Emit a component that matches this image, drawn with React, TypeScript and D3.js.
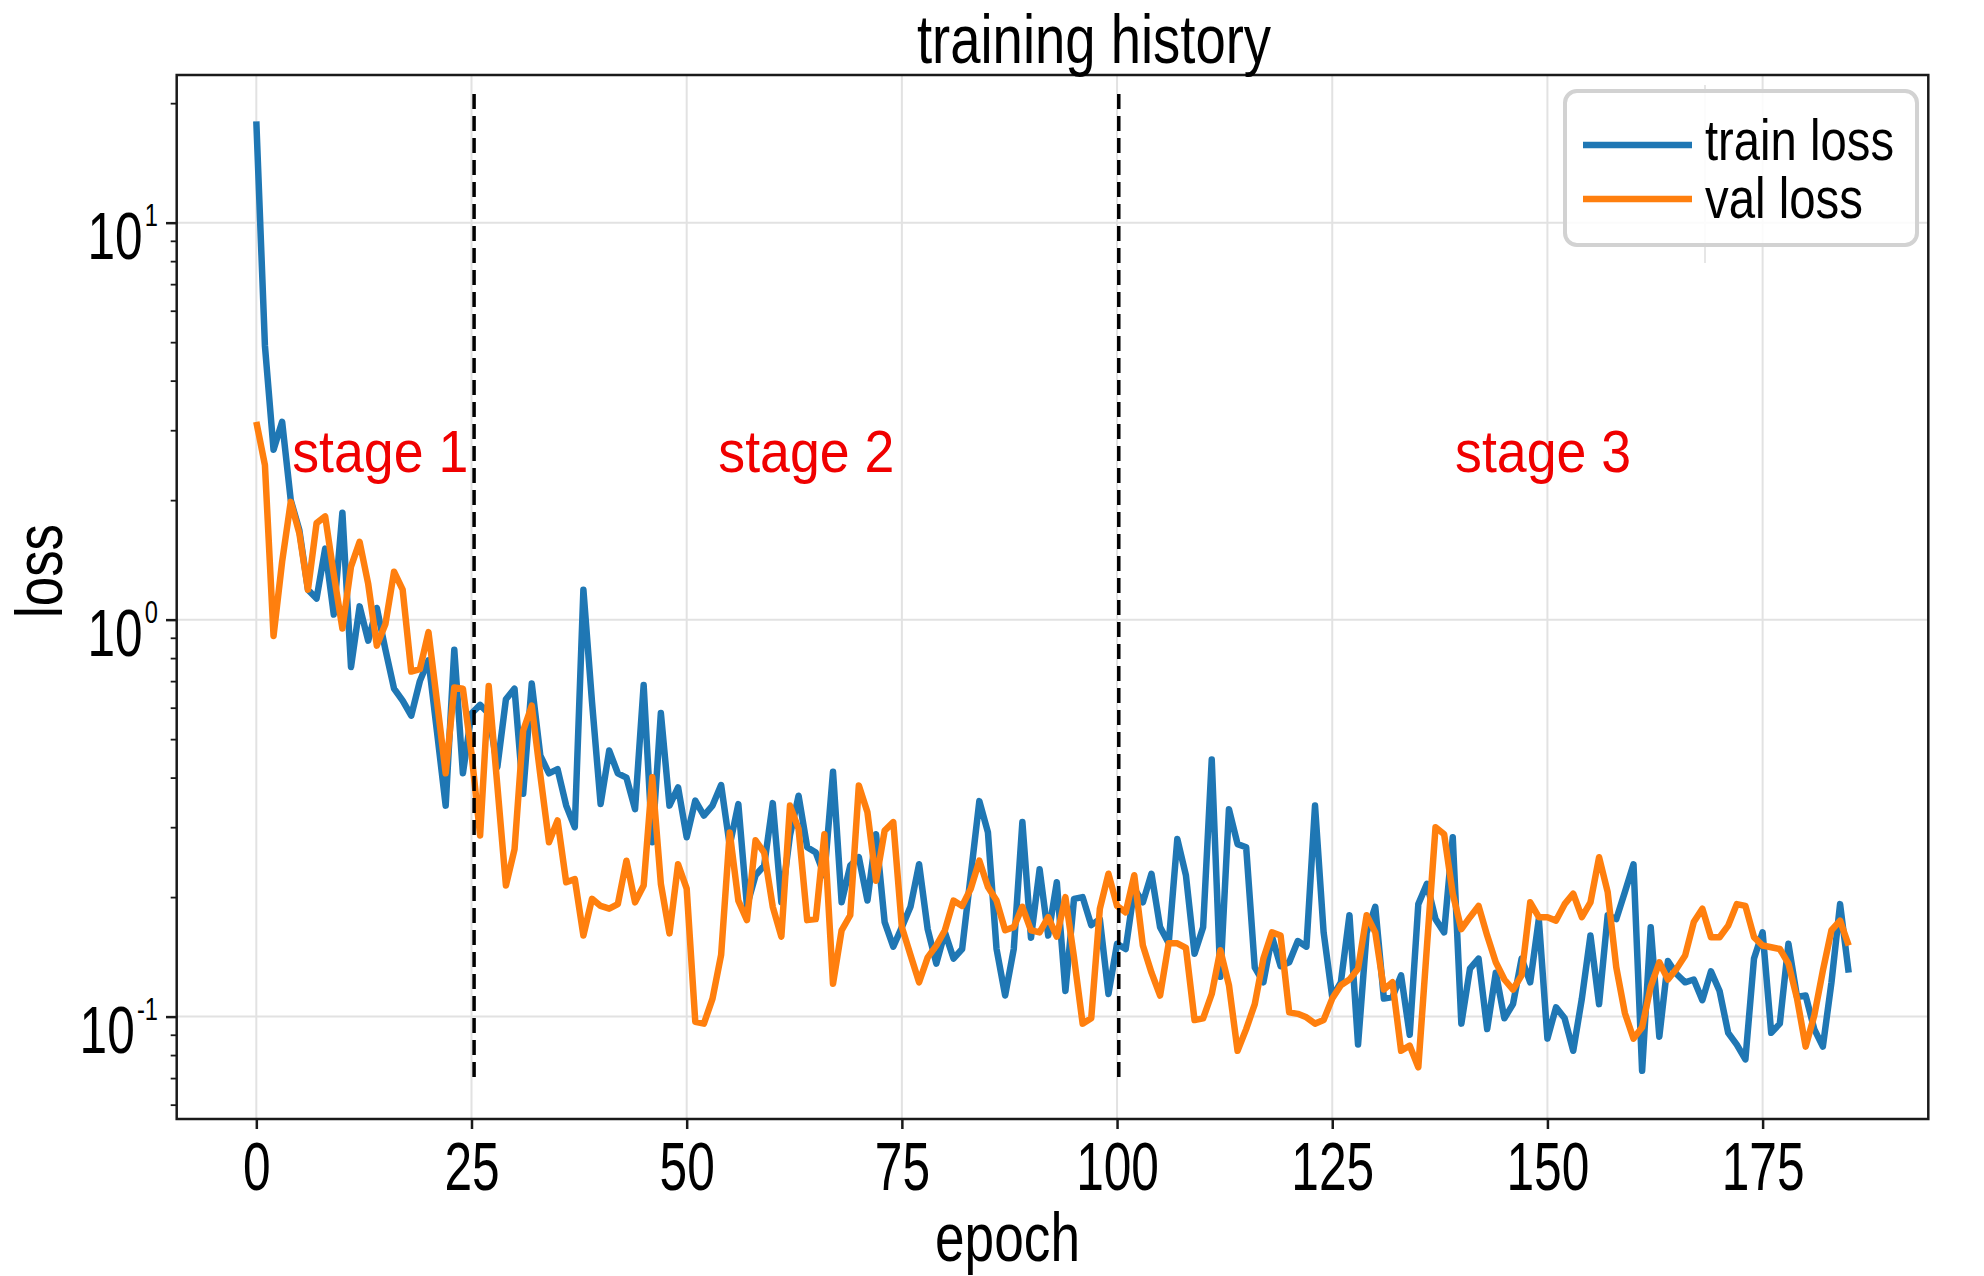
import { useEffect, useRef } from 'react';
import * as d3 from 'd3';

// loss per epoch (0..185)
const trainLoss = [
  18.0, 4.9, 2.68, 3.15, 2.0, 1.68, 1.19, 1.13, 1.51, 1.03,
  1.86, 0.76, 1.08, 0.885, 1.07, 0.84, 0.67, 0.625, 0.573, 0.7,
  0.79, 0.52, 0.34, 0.84, 0.41, 0.58, 0.61, 0.58, 0.425, 0.63,
  0.67, 0.364, 0.69, 0.454, 0.41, 0.42, 0.34, 0.3, 1.19, 0.62,
  0.343, 0.468, 0.41, 0.4, 0.333, 0.684, 0.275, 0.582, 0.34, 0.378,
  0.283, 0.35, 0.321, 0.34, 0.383, 0.27, 0.343, 0.19, 0.227, 0.24,
  0.345, 0.194, 0.286, 0.36, 0.267, 0.259, 0.227, 0.414, 0.194, 0.24,
  0.252, 0.196, 0.288, 0.173, 0.15, 0.168, 0.189, 0.242, 0.166, 0.136,
  0.163, 0.14, 0.148, 0.227, 0.349, 0.291, 0.148, 0.113, 0.148, 0.309,
  0.158, 0.235, 0.16, 0.218, 0.116, 0.198, 0.2, 0.17, 0.176, 0.114,
  0.1525, 0.148, 0.21, 0.194, 0.229, 0.168, 0.153, 0.28, 0.227, 0.144,
  0.168, 0.444, 0.126, 0.333, 0.272, 0.267, 0.133, 0.122, 0.159, 0.134,
  0.137, 0.155, 0.15, 0.34, 0.163, 0.112, 0.122, 0.18, 0.085, 0.163,
  0.189, 0.111, 0.112, 0.127, 0.09, 0.192, 0.216, 0.176, 0.163, 0.283,
  0.096, 0.132, 0.14, 0.093, 0.129, 0.099, 0.1075, 0.14, 0.122, 0.176,
  0.088, 0.1055, 0.099, 0.082, 0.111, 0.16, 0.1075, 0.18, 0.176, 0.206,
  0.242, 0.073, 0.168, 0.089, 0.138, 0.128, 0.122, 0.124, 0.11, 0.13,
  0.116, 0.091, 0.085, 0.078, 0.14, 0.163, 0.091, 0.096, 0.1525, 0.112,
  0.113, 0.093, 0.084, 0.122, 0.192, 0.129,
];

const valLoss = [
  3.15, 2.45, 0.91, 1.4, 1.98, 1.65, 1.19, 1.75, 1.82, 1.3,
  0.95, 1.36, 1.57, 1.23, 0.86, 0.975, 1.32, 1.19, 0.74, 0.75,
  0.93, 0.62, 0.41, 0.675, 0.67, 0.46, 0.286, 0.68, 0.382, 0.214,
  0.264, 0.525, 0.607, 0.405, 0.275, 0.312, 0.218, 0.222, 0.16, 0.198,
  0.19, 0.187, 0.192, 0.247, 0.194, 0.214, 0.401, 0.216, 0.162, 0.242,
  0.21, 0.097, 0.096, 0.111, 0.143, 0.291, 0.196, 0.175, 0.278, 0.259,
  0.189, 0.159, 0.34, 0.297, 0.175, 0.176, 0.288, 0.121, 0.165, 0.18,
  0.382, 0.327, 0.22, 0.294, 0.309, 0.168, 0.143, 0.122, 0.141, 0.151,
  0.165, 0.196, 0.19, 0.21, 0.247, 0.212, 0.196, 0.165, 0.168, 0.189,
  0.165, 0.163, 0.178, 0.159, 0.2, 0.141, 0.096, 0.099, 0.187, 0.229,
  0.19, 0.183, 0.227, 0.151, 0.129, 0.113, 0.153, 0.153, 0.149, 0.098,
  0.099, 0.114, 0.147, 0.12, 0.082, 0.093, 0.1075, 0.14, 0.163, 0.16,
  0.1025, 0.1016, 0.0996, 0.096, 0.098, 0.111, 0.12, 0.124, 0.132, 0.18,
  0.163, 0.117, 0.122, 0.082, 0.0845, 0.0745, 0.15, 0.3, 0.288, 0.204,
  0.166, 0.178, 0.19, 0.16, 0.137, 0.124, 0.117, 0.127, 0.194, 0.178,
  0.178, 0.1745, 0.192, 0.204, 0.178, 0.194, 0.252, 0.206, 0.133, 0.102,
  0.088, 0.094, 0.119, 0.137, 0.124, 0.132, 0.1425, 0.173, 0.187, 0.1585,
  0.1585, 0.1695, 0.192, 0.19, 0.1585, 0.151, 0.1495, 0.148, 0.136, 0.111,
  0.084, 0.1006, 0.1305, 0.165, 0.1745, 0.151,
];

const xTicks = [0, 25, 50, 75, 100, 125, 150, 175];
const yMajorTicks = [0.1, 1, 10];
const yTickExponents = ['-1', '0', '1'];
const stageLabels = ['stage 1', 'stage 2', 'stage 3'];
const stageCenters = [14.4, 63.9, 149.5];
const stageLabelLoss = 2.36;
const stageBoundaries = [25.3, 100.2];
const boundarySpan = [0.068, 21.1];
const seriesNames = ['train loss', 'val loss'];
const seriesColors = ['#1f77b4', '#ff7f0e'];

const W = 1984;
const H = 1276;
const FONT = '"Liberation Sans", Arial, Helvetica, sans-serif';

export default function App() {
  const svgRef = useRef<SVGSVGElement>(null);

  useEffect(() => {
    if (!svgRef.current) return;
    const svg = d3.select(svgRef.current);
    svg.selectAll('*').remove();

    const plot = { left: 176.7, right: 1928.3, top: 75, bottom: 1119 };
    const x = d3.scaleLinear().domain([-9.25, 194.25]).range([plot.left, plot.right]);
    const y = d3.scaleLog().domain([0.05521, 23.55]).range([plot.bottom, plot.top]);

    svg.append('rect').attr('width', W).attr('height', H).attr('fill', '#fff');

    // grid
    const grid = svg.append('g').attr('stroke', '#e2e2e2').attr('stroke-width', 2);
    grid
      .selectAll('.gx')
      .data(xTicks)
      .join('line')
      .attr('x1', (d) => x(d))
      .attr('x2', (d) => x(d))
      .attr('y1', plot.top)
      .attr('y2', plot.bottom);
    grid
      .selectAll('.gy')
      .data(yMajorTicks)
      .join('line')
      .attr('x1', plot.left)
      .attr('x2', plot.right)
      .attr('y1', (d) => y(d))
      .attr('y2', (d) => y(d));

    // faint leftover line under the legend, as in the source image
    svg
      .append('line')
      .attr('x1', 1705)
      .attr('x2', 1705)
      .attr('y1', 85)
      .attr('y2', 263)
      .attr('stroke', '#e6e6e6')
      .attr('stroke-width', 2);

    // series
    const line = d3
      .line<number>()
      .x((_, i) => x(i))
      .y((d) => y(d));
    [trainLoss, valLoss].forEach((series, i) => {
      svg
        .append('path')
        .datum(series)
        .attr('d', line)
        .attr('fill', 'none')
        .attr('stroke', seriesColors[i])
        .attr('stroke-width', 6.5)
        .attr('stroke-linejoin', 'round');
    });

    // stage boundaries
    svg
      .selectAll('.stage-line')
      .data(stageBoundaries)
      .join('line')
      .attr('x1', (d) => x(d))
      .attr('x2', (d) => x(d))
      .attr('y1', y(boundarySpan[1]))
      .attr('y2', y(boundarySpan[0]))
      .attr('stroke', '#000')
      .attr('stroke-width', 3.5)
      .attr('stroke-dasharray', '15 7');

    // stage labels
    svg
      .selectAll('.stage-label')
      .data(stageLabels)
      .join('text')
      .attr('x', (_, i) => x(stageCenters[i]))
      .attr('y', y(stageLabelLoss))
      .attr('text-anchor', 'middle')
      .attr('textLength', 176)
      .attr('lengthAdjust', 'spacingAndGlyphs')
      .style('font-family', FONT)
      .style('font-size', '59px')
      .style('fill', '#f00000')
      .text((d) => d);

    // spines
    svg
      .append('rect')
      .attr('x', plot.left)
      .attr('y', plot.top)
      .attr('width', plot.right - plot.left)
      .attr('height', plot.bottom - plot.top)
      .attr('fill', 'none')
      .attr('stroke', '#1a1a1a')
      .attr('stroke-width', 2.5);

    // x axis
    const xAxis = svg
      .append('g')
      .attr('transform', `translate(0, ${plot.bottom})`)
      .call(d3.axisBottom(x).tickValues(xTicks).tickSize(10).tickFormat((d) => String(d)));
    xAxis.select('.domain').remove();
    xAxis.selectAll('.tick line').attr('stroke', '#1a1a1a').attr('stroke-width', 2.5);
    xAxis
      .selectAll('.tick text')
      .attr('y', 71)
      .attr('dy', null)
      .attr('transform', 'scale(0.73, 1)')
      .style('font-family', FONT)
      .style('font-size', '68px')
      .style('fill', '#000');

    // y axis: minor ticks
    const minorTicks = y.ticks().filter((t) => !yMajorTicks.some((m) => Math.abs(m - t) < 1e-9));
    const yMinor = svg
      .append('g')
      .attr('transform', `translate(${plot.left}, 0)`)
      .call(d3.axisLeft(y).tickValues(minorTicks).tickSize(6).tickFormat(() => ''));
    yMinor.select('.domain').remove();
    yMinor.selectAll('.tick line').attr('stroke', '#1a1a1a').attr('stroke-width', 1.8);

    // y axis: majors with 10^n labels
    const yAxis = svg
      .append('g')
      .attr('transform', `translate(${plot.left}, 0)`)
      .call(d3.axisLeft(y).tickValues(yMajorTicks).tickSize(10.7).tickFormat(() => ''));
    yAxis.select('.domain').remove();
    yAxis.selectAll('.tick line').attr('stroke', '#1a1a1a').attr('stroke-width', 2.5);
    yAxis.selectAll('.tick text').remove();
    yAxis.selectAll<SVGGElement, number>('.tick').each(function (_, i) {
      const label = d3
        .select(this)
        .append('text')
        .attr('transform', `translate(${158 - plot.left}, 36) scale(0.74, 1)`)
        .attr('text-anchor', 'end')
        .style('font-family', FONT)
        .style('fill', '#000');
      label.append('tspan').style('font-size', '67px').text('10');
      label
        .append('tspan')
        .attr('dx', 3)
        .attr('dy', -33)
        .style('font-size', '32px')
        .text(yTickExponents[i]);
    });

    // title and axis labels
    svg
      .append('text')
      .attr('x', 1094)
      .attr('y', 63)
      .attr('text-anchor', 'middle')
      .attr('textLength', 354)
      .attr('lengthAdjust', 'spacingAndGlyphs')
      .style('font-family', FONT)
      .style('font-size', '68px')
      .text('training history');

    svg
      .append('text')
      .attr('x', 1007.5)
      .attr('y', 1261)
      .attr('text-anchor', 'middle')
      .attr('textLength', 145)
      .attr('lengthAdjust', 'spacingAndGlyphs')
      .style('font-family', FONT)
      .style('font-size', '68px')
      .text('epoch');

    svg
      .append('text')
      .attr('transform', 'translate(62, 571) rotate(-90)')
      .attr('text-anchor', 'middle')
      .attr('textLength', 94)
      .attr('lengthAdjust', 'spacingAndGlyphs')
      .style('font-family', FONT)
      .style('font-size', '67px')
      .text('loss');

    // legend
    const legend = svg.append('g');
    legend
      .append('rect')
      .attr('x', 1565)
      .attr('y', 91)
      .attr('width', 352)
      .attr('height', 154)
      .attr('rx', 12)
      .attr('fill', '#fff')
      .attr('fill-opacity', 0.85)
      .attr('stroke', '#d2d2d2')
      .attr('stroke-width', 4);
    const legendRows = [145, 199];
    const legendBaselines = [160, 218];
    const legendWidths = [189, 158];
    seriesNames.forEach((name, i) => {
      legend
        .append('line')
        .attr('x1', 1583)
        .attr('x2', 1692)
        .attr('y1', legendRows[i])
        .attr('y2', legendRows[i])
        .attr('stroke', seriesColors[i])
        .attr('stroke-width', 6.5);
      legend
        .append('text')
        .attr('x', 1705)
        .attr('y', legendBaselines[i])
        .attr('textLength', legendWidths[i])
        .attr('lengthAdjust', 'spacingAndGlyphs')
        .style('font-family', FONT)
        .style('font-size', '57px')
        .text(name);
    });
  }, []);

  return (
    <div style={{ position: 'absolute', left: 0, top: 0 }}>
      <svg ref={svgRef} width={W} height={H} style={{ display: 'block' }} />
    </div>
  );
}
